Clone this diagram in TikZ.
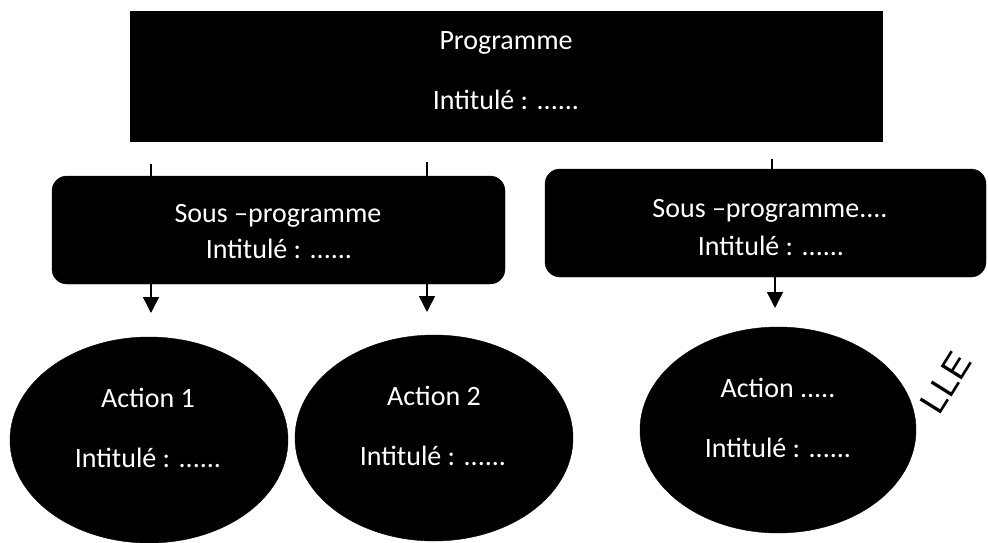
\documentclass[tikz,border=0pt]{standalone}
\usepackage{fontspec}
\setmainfont{Carlito}
\newfontfamily\wmfont{Liberation Sans}
\usetikzlibrary{shapes.geometric,arrows.meta}
\begin{document}
\begin{tikzpicture}[x=1pt,y=-1pt,
  blackbox/.style={fill=black,draw=black,inner sep=0pt},
  subbox/.style={blackbox,rounded corners=15pt},
  actell/.style={ellipse,fill=black,draw=black,inner sep=0pt,minimum width=278pt,minimum height=206pt},
  wtext/.style={text=white,font=\fontsize{28}{32}\selectfont,anchor=base,inner sep=0pt},
  conn/.style={line width=1.5pt,draw=black},
  arr/.style={conn,-{Triangle[width=16pt,length=16pt]}}
]
\useasboundingbox (0,0) rectangle (988,543);

% boxes
\node[blackbox,minimum width=752pt,minimum height=130pt] (prog) at (506,76) {};
\node[subbox,minimum width=453pt,minimum height=108pt] (sub1) at (278.5,230) {};
\node[subbox,minimum width=441pt,minimum height=108pt] (sub2) at (765.5,223) {};

% ellipses
\node[actell] (e1) at (149,440) {};
\node[actell] (e2) at (434,438) {};
\node[actell,minimum width=276pt] (e3) at (778,430) {};

% texts
\node[wtext] (progt) at (506,50) {Programme};
\node[wtext] (progi) at (506,110) {Intitulé : ......};
\node[wtext] (s1t) at (278,222) {Sous –programme};
\node[wtext] (s1i) at (279,258) {Intitulé : ......};
\node[wtext] (s2t) at (770,217) {Sous –programme....};
\node[wtext] (s2i) at (771,255) {Intitulé : ......};
\node[wtext] (a1t) at (148,407) {Action 1};
\node[wtext] (a1i) at (148,467) {Intitulé : ......};
\node[wtext] (a2t) at (434,405) {Action 2};
\node[wtext] (a2i) at (433,465) {Intitulé : ......};
\node[wtext] (a3t) at (778,397) {Action .....};
\node[wtext] (a3i) at (778,457) {Intitulé : ......};

% stubs above sub-programme boxes
\coordinate (st1) at (151,164);
\coordinate (st2) at (427,162);
\coordinate (st3) at (772,159);
\draw[conn] (st1) -- (st1 |- sub1.north);
\draw[conn] (st2) -- (st2 |- sub1.north);
\draw[conn] (st3) -- (st3 |- sub2.north);

% arrows below sub-programme boxes
\coordinate (t1) at (151,313);
\coordinate (t2) at (427,312);
\coordinate (t3) at (775,308);
\draw[arr] (t1 |- sub1.south) -- (t1);
\draw[arr] (t2 |- sub1.south) -- (t2);
\draw[arr] (t3 |- sub2.south) -- (t3);

% stamp fragment
\node[rotate=58,font=\wmfont\fontsize{36}{36}\selectfont,inner sep=0pt] (wm) at (946,383) {LLE};
\end{tikzpicture}
\end{document}
